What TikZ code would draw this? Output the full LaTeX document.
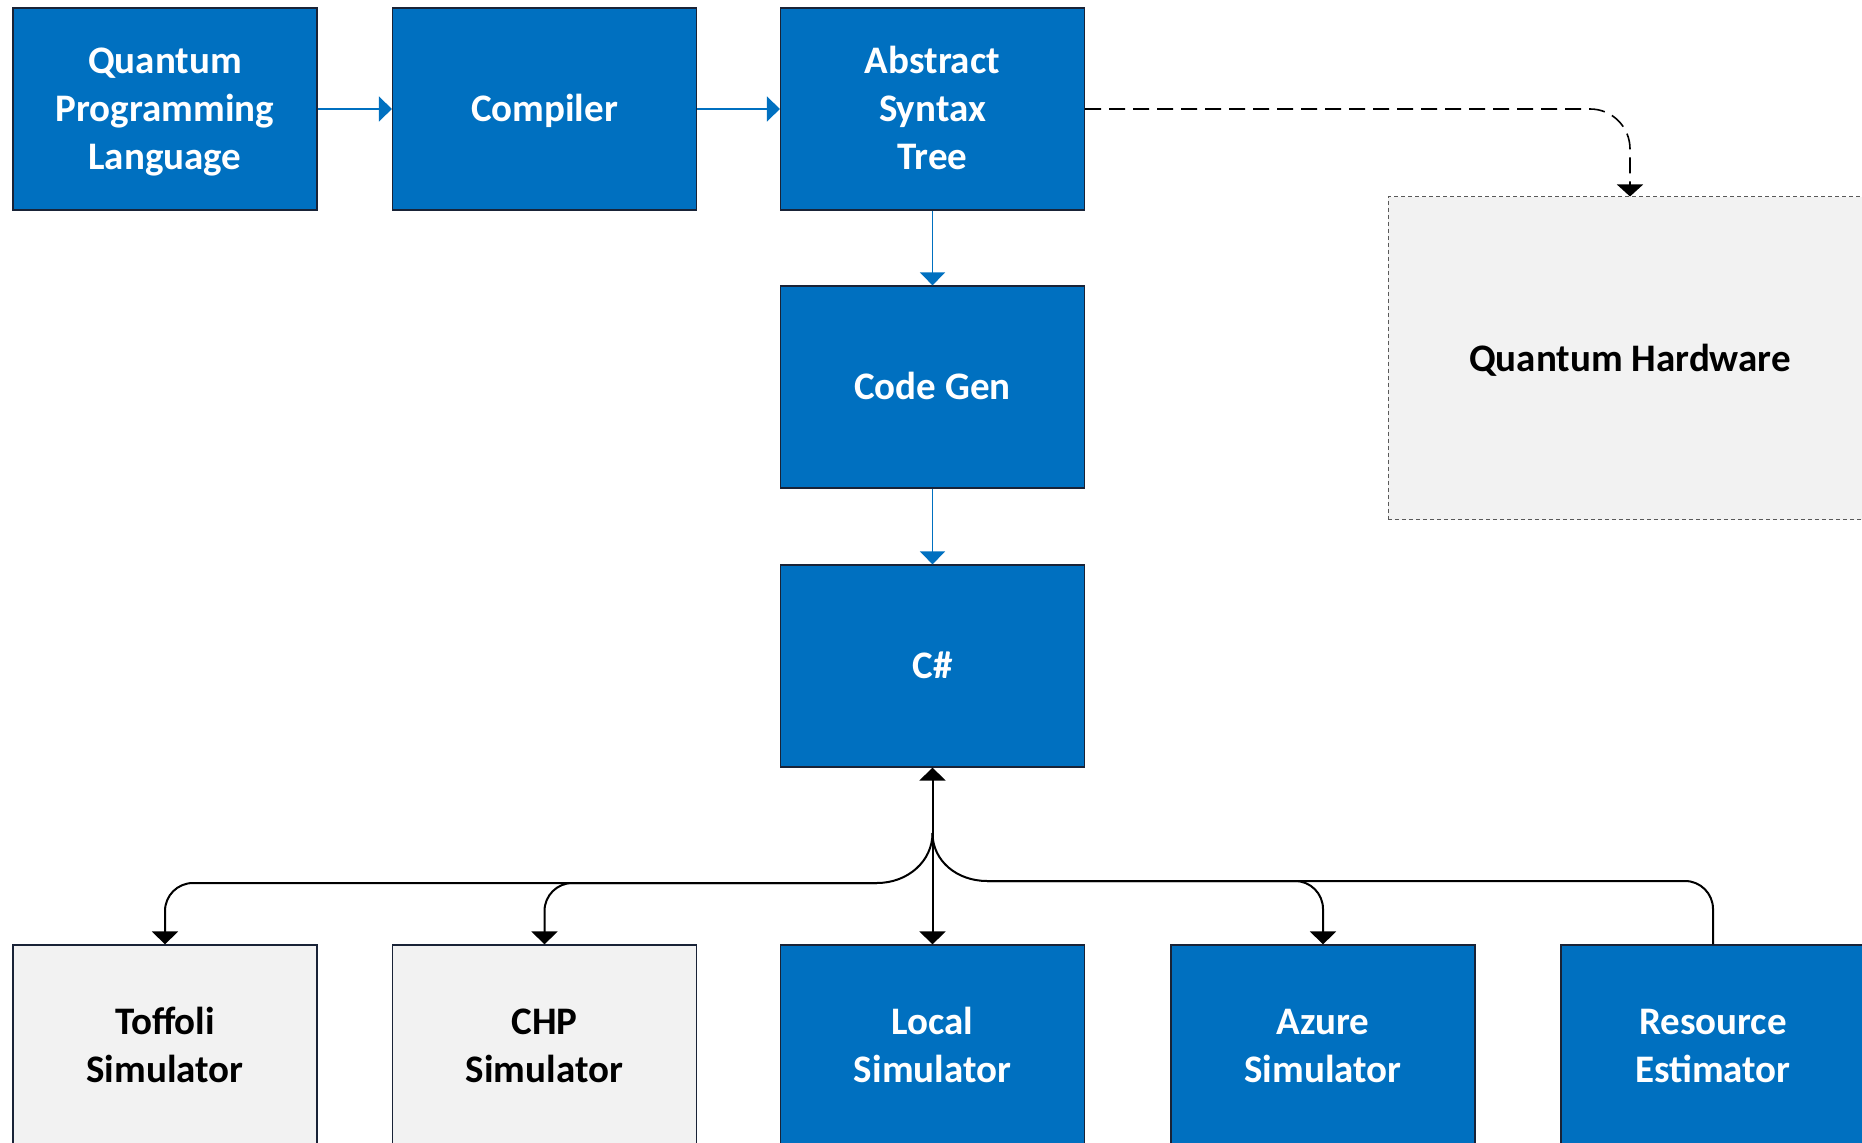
\documentclass[tikz,border=0pt]{standalone}
\usepackage{fontspec}
\setmainfont{Carlito}
\usetikzlibrary{arrows.meta}
\definecolor{qblue}{RGB}{0,112,192}
\definecolor{qgray}{RGB}{242,242,242}
\definecolor{qedge}{RGB}{25,35,55}
\newcommand{\qtop}{\rule{0pt}{18.2pt}}
\newcommand{\qbot}{\rule[-5.6pt]{0pt}{5.6pt}}
\begin{document}
\begin{tikzpicture}[x=0.5pt,y=-0.5pt,
  bluebox/.style={draw=qedge, line width=0.6pt, fill=qblue, text=white,
    minimum width=152pt, minimum height=101pt, align=center, inner sep=0pt,
    font=\fontsize{19.5pt}{23.8pt}\selectfont\bfseries},
  graybox/.style={bluebox, fill=qgray, text=black},
  hwbox/.style={graybox, draw=black!65, line width=0.5pt, dash pattern=on 2pt off 1.5pt,
    minimum width=242pt, minimum height=161.5pt},
  bconn/.style={draw=qblue, line width=0.75pt, -{Triangle[length=6.5pt,width=12.5pt]}},
  kconn/.style={draw=black, line width=1pt},
  ktip/.style={-{Triangle[length=6.5pt,width=13pt]}},
  dconn/.style={draw=black, line width=0.8pt, dash pattern=on 8pt off 4pt,
    -{Triangle[length=6pt,width=13pt]}}
]
\useasboundingbox (0,0) rectangle (1862,1143);
\clip (0,0) rectangle (1862,1143);

% top row
\node[bluebox] (qpl) at (165,109) {\qtop Quantum\\Programming\\Language\qbot};
\node[bluebox] (compiler) at (544.5,109) {\qtop Compiler\qbot};
\node[bluebox] (ast) at (932.5,109) {\qtop Abstract\\Syntax\\Tree\qbot};
\node[bluebox] (codegen) at (932.5,387) {\qtop Code Gen\qbot};
\node[bluebox] (csharp) at (932.5,666) {\qtop C\#\qbot};
\node[hwbox] (qh) at (1630,358.5) {\qtop Quantum Hardware\qbot};

% bottom row
\node[graybox] (toffoli) at (165,1046) {\qtop Toffoli\\Simulator\qbot};
\node[graybox] (chp) at (544.5,1046) {\qtop CHP\\Simulator\qbot};
\node[bluebox] (local) at (932.5,1046) {\qtop Local\\Simulator\qbot};
\node[bluebox] (azure) at (1323,1046) {\qtop Azure\\Simulator\qbot};
\node[bluebox] (resource) at (1713,1046) {\qtop Resource\\Estimator\qbot};

% blue flow
\draw[bconn] (qpl.east) -- (compiler.west);
\draw[bconn] (compiler.east) -- (ast.west);
\draw[bconn] (ast.south) -- (codegen.north);
\draw[bconn] (codegen.south) -- (csharp.north);

% dashed to hardware
\draw[dconn, rounded corners=20pt] (ast.east) -| (qh.north);

% bottom connectors
\coordinate (fork) at (932.5,833);
\coordinate (busL) at (877,883);
\coordinate (busR) at (987,881);

\draw[kconn, {Triangle[length=6.5pt,width=13pt]}-{Triangle[length=6.5pt,width=13pt]}]
  (csharp.south) -- (local.north);
\draw[kconn, ktip] (fork) .. controls (932.5,861) and (908,883) .. (busL)
  [rounded corners=14pt] -| (toffoli.north);
\draw[kconn, ktip, rounded corners=14pt] (busL) -| (chp.north);
\draw[kconn] (fork) .. controls (932.5,861) and (957,881) .. (busR)
  [rounded corners=14pt] -| (resource.north);
\draw[kconn, ktip, rounded corners=14pt] (busR) -| (azure.north);
\end{tikzpicture}
\end{document}
